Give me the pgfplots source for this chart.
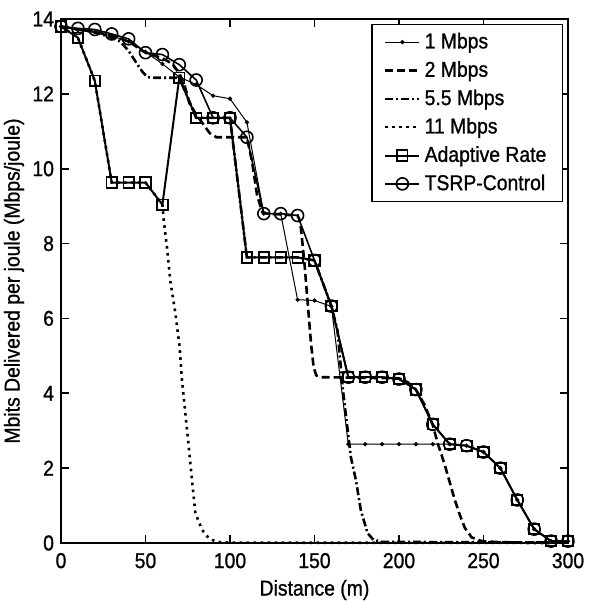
\documentclass[border=0pt]{standalone}
\usepackage{pgfplots}
\pgfplotsset{compat=1.18}
\usepackage{fontspec}
\setmainfont{Liberation Sans}[FakeStretch=0.9, FakeBold=1]
\begin{document}
\begin{tikzpicture}[font=\fontsize{10.8}{13}\selectfont]
\begin{axis}[
  scale only axis, width=253.5bp, height=262bp,
  xmin=0, xmax=300, ymin=0, ymax=14,
  xtick={0,50,...,300}, ytick={0,2,...,14},
  tick align=inside, xtick pos=both, ytick pos=both,
  major tick length=4bp,
  axis line style={line width=1bp},
  every tick/.style={black, line width=0.8bp},
  /pgf/number format/assume math mode=true,
  ticklabel style={font=\fontsize{10.8}{13}\selectfont},
  xticklabel style={yshift=-1.5bp},
  xlabel={Distance (m)},
  ylabel={Mbits Delivered per joule (Mbps/joule)},
  label style={font=\fontsize{10.8}{13}\selectfont},
  xlabel style={at={(axis description cs:0.5,-0.0897)}, anchor=center},
  ylabel style={at={(axis description cs:-0.0927,0.5)}, anchor=center},
  legend style={at={(0.99,0.99)}, anchor=north east, draw=black, line width=0.6bp,
    font=\fontsize{10.8}{13}\selectfont, cells={anchor=west}, row sep=0.9bp,
    inner xsep=6bp, inner ysep=2bp},
  legend cell align=left,
  clip=false,
]
% 1 Mbps
\addplot[black, line width=0.5bp, mark=*, mark size=0.8bp] coordinates {
(0,13.8) (10,13.7) (20,13.65) (30,13.55) (40,13.4) (50,13.12) (60,12.8) (70,12.45) (80,12.25) (90,11.95) (100,11.87) (110,11.24) (120,8.8) (130,8.8) (140,6.5) (150,6.48) (160,6.32) (170,2.64) (180,2.64) (190,2.64) (200,2.64) (210,2.64) (220,2.64) (230,2.64) (240,2.6) (250,2.43) (260,2.0) (270,1.15) (280,0.37) (290,0.05) (300,0.05)};
\addlegendentry{1 Mbps}
% 2 Mbps
\addplot[black, line width=1.3bp, dash pattern=on 4bp off 2bp] coordinates {
(0,13.8) (10,13.72) (20,13.66) (30,13.55) (40,13.4) (50,13.1) (60,12.95) (66,12.8) (70,12.55) (73,12.25) (76,11.75) (80,11.45) (84,11.2) (88,10.95) (92,10.84) (110,10.84) (113,10.2) (116,9.3) (119,8.85) (122,8.8) (140,8.75) (141,8.65) (142,8.4) (144,7.5) (146,6.4) (148,5.3) (149.5,4.7) (151,4.48) (154,4.43) (200,4.4) (205,4.3) (210,4.1) (215,3.7) (220,3.15) (223,2.65) (227,2.1) (233,1.15) (236,0.75) (239,0.4) (243,0.15) (249,0.05) (260,0.02) (300,0.01)};
\addlegendentry{2 Mbps}
% 5.5 Mbps
\addplot[black, line width=1.3bp, dash pattern=on 4bp off 1.5bp on 1bp off 1.5bp] coordinates {
(0,13.8) (10,13.72) (20,13.65) (30,13.5) (35,13.4) (40,13.15) (45,12.8) (48,12.6) (51,12.45) (54,12.43) (70,12.43) (80,11.36) (100,11.36) (110,7.63) (140,7.63) (150,7.55) (160,6.33) (163.6,5.68) (166.6,4.17) (171.5,2.3) (174.5,1.68) (177.4,0.88) (181.4,0.26) (185,0.08) (190,0.03) (300,0.01)};
\addlegendentry{5.5 Mbps}
% 11 Mbps
\addplot[black, line width=1.3bp, dash pattern=on 1.3bp off 2.2bp] coordinates {
(0,13.8) (10,13.5) (20,12.35) (30,9.63) (40,9.63) (50,9.63) (60,9.04) (60.7,8.66) (62.7,7.9) (64.7,7.0) (67.7,6.13) (70.2,5.24) (71.6,4.35) (73.6,3.46) (75.6,2.57) (77.5,1.68) (79.5,0.8) (83.5,0.35) (87.4,0.13) (92,0.03) (100,0.01) (300,0)};
\addlegendentry{11 Mbps}
% Adaptive Rate
\addplot[black, line width=1bp, mark=square, mark size=2.6bp, mark options={solid, line width=0.9bp}] coordinates {
(0,13.8) (10,13.5) (20,12.35) (30,9.63) (40,9.63) (50,9.63) (60,9.04) (70,12.43) (80,11.36) (90,11.36) (100,11.36) (110,7.63) (120,7.63) (130,7.63) (140,7.63) (150,7.55) (160,6.33) (170,4.43) (180,4.43) (190,4.43) (200,4.38) (210,4.1) (220,3.17) (230,2.64) (240,2.6) (250,2.43) (260,2.0) (270,1.15) (280,0.37) (290,0.05) (300,0.05)};
\addlegendentry{Adaptive Rate}
% TSRP-Control
\addplot[black, line width=0.8bp, mark=o, mark size=3bp, mark options={solid, line width=0.8bp}] coordinates {
(0,13.8) (10,13.75) (20,13.72) (30,13.6) (40,13.47) (50,13.1) (60,13.05) (70,12.78) (80,12.37) (90,11.36) (100,11.36) (110,10.84) (120,8.8) (130,8.8) (140,8.75) (150,7.55) (160,6.33) (170,4.43) (180,4.43) (190,4.43) (200,4.38) (210,4.1) (220,3.17) (230,2.64) (240,2.6) (250,2.43) (260,2.0) (270,1.15) (280,0.37) (290,0.05) (300,0.05)};
\addlegendentry{TSRP-Control}
\end{axis}
\pgfresetboundingbox
\path (current axis.south west) ++(-30.5bp,-29bp) rectangle ++(297.5bp,300.5bp);
\end{tikzpicture}
\end{document}
